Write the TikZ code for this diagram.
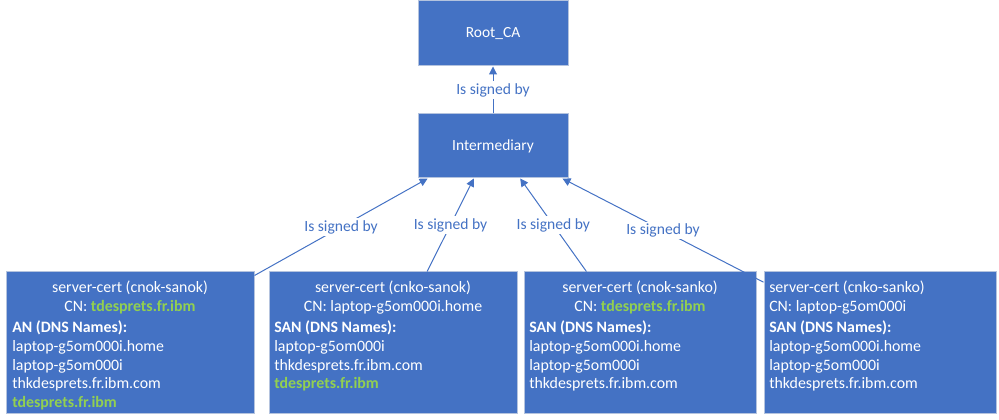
\documentclass[tikz,border=0pt]{standalone}
\usepackage{fontspec}
\setmainfont{Carlito}
\usetikzlibrary{arrows.meta,calc}
\definecolor{boxblue}{HTML}{4472C4}
\definecolor{boxedge}{HTML}{B4C3DE}
\definecolor{certgreen}{HTML}{92D050}
\definecolor{lineblue}{HTML}{4472C4}
\begin{document}
\begin{tikzpicture}[x=0.75pt,y=-0.75pt,
  cabox/.style={draw=boxedge, line width=0.75pt, fill=boxblue, text=white, inner sep=0pt,
    font=\fontsize{11.6}{14.1}\selectfont},
  certbox/.style={cabox, minimum height=105.75pt},
  celltext/.style={text=white, inner sep=0pt, font=\fontsize{11.9}{14.1}\selectfont},
  signlink/.style={draw=lineblue, line width=0.75pt, -{Triangle[width=6pt,length=6pt]}},
  signlabel/.style={fill=white, text=lineblue, inner sep=1.5pt, font=\fontsize{11.7}{13}\selectfont}]
\useasboundingbox (0,0) rectangle (999,420);

\node[cabox, minimum width=112.5pt, minimum height=48.75pt] (root) at (493,33.5) {Root\_CA};
\node[cabox, minimum width=112.5pt, minimum height=48pt] (inter) at (493,146) {Intermediary};

\node[certbox, minimum width=186pt] (b1) at (130,342.5) {};
\node[certbox, minimum width=186pt] (b2) at (393,342.5) {};
\node[certbox, minimum width=174pt] (b3) at (640,342.5) {};
\node[certbox, minimum width=174pt] (b4) at (880,342.5) {};

% box 1
\node[celltext, align=center, anchor=north] (h1) at (130,281) {server-cert (cnok-sanok)\\CN: \textcolor{certgreen}{\textbf{tdesprets.fr.ibm}}};
\node[celltext, align=left, anchor=north west] (l1) at (12,320.5) {\textbf{AN (DNS Names):}\\laptop-g5om000i.home\\laptop-g5om000i\\thkdesprets.fr.ibm.com\\\textcolor{certgreen}{\textbf{tdesprets.fr.ibm}}};
% box 2
\node[celltext, align=center, anchor=north] (h2) at (393,281) {server-cert (cnko-sanok)\\CN: laptop-g5om000i.home};
\node[celltext, align=left, anchor=north west] (l2) at (274,320.5) {\textbf{SAN (DNS Names):}\\laptop-g5om000i\\thkdesprets.fr.ibm.com\\\textcolor{certgreen}{\textbf{tdesprets.fr.ibm}}};
% box 3
\node[celltext, align=center, anchor=north] (h3) at (640,281) {server-cert (cnok-sanko)\\CN: \textcolor{certgreen}{\textbf{tdesprets.fr.ibm}}};
\node[celltext, align=left, anchor=north west] (l3) at (529,320.5) {\textbf{SAN (DNS Names):}\\laptop-g5om000i.home\\laptop-g5om000i\\thkdesprets.fr.ibm.com};
% box 4
\node[celltext, align=left, anchor=north west] (h4) at (769,281) {server-cert (cnko-sanko)\\CN: laptop-g5om000i};
\node[celltext, align=left, anchor=north west] (l4) at (769,320.5) {\textbf{SAN (DNS Names):}\\laptop-g5om000i.home\\laptop-g5om000i\\thkdesprets.fr.ibm.com};

% connectors
\draw[signlink] (inter.north) -- node[signlabel] (s0) {Is signed by} (root.south);
\draw[signlink] ([yshift=-3pt]b1.north east) -- node[signlabel] (s1) {Is signed by} ($(inter.south west)!0.067!(inter.south east)$);
\draw[signlink] ($(b2.north west)!0.637!(b2.north east)$) -- node[signlabel] (s2) {Is signed by} ($(inter.south west)!0.373!(inter.south east)$);
\draw[signlink] ($(b3.north west)!0.27!(b3.north east)$) -- node[signlabel] (s3) {Is signed by} ($(inter.south west)!0.68!(inter.south east)$);
\draw[signlink] ([yshift=-8pt]b4.north west) -- node[signlabel] (s4) {Is signed by} ($(inter.south west)!0.96!(inter.south east)$);
\end{tikzpicture}
\end{document}
